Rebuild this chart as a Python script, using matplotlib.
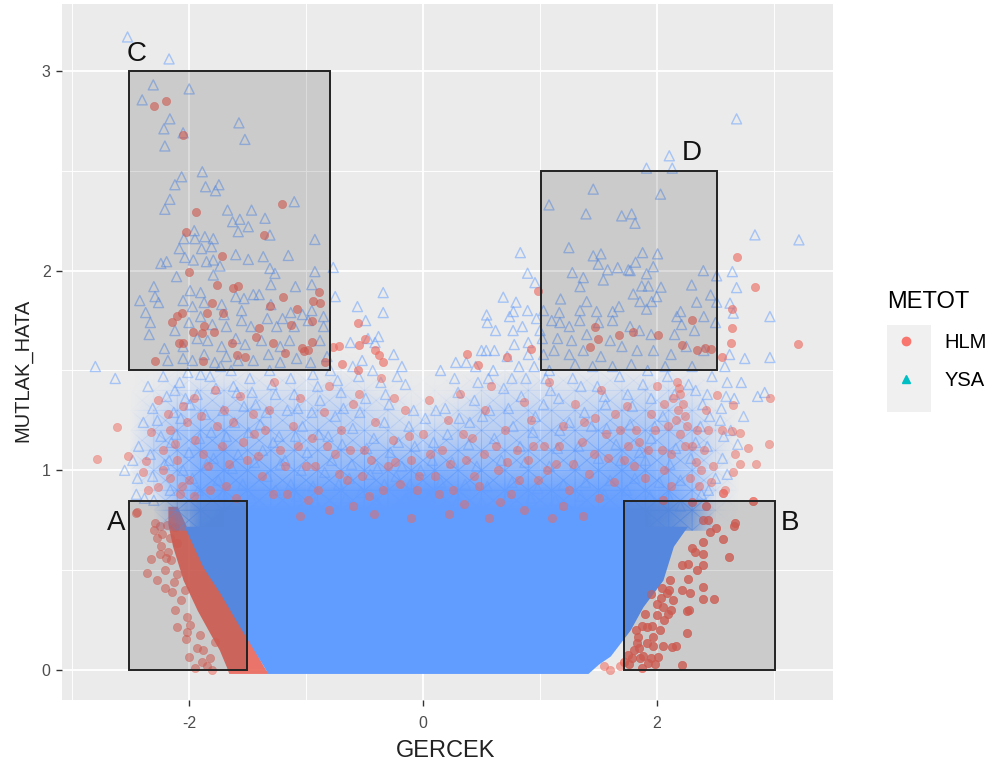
import matplotlib
matplotlib.use("Agg")
import matplotlib.pyplot as plt
from matplotlib.colors import LinearSegmentedColormap
from matplotlib.lines import Line2D
from matplotlib.patches import Rectangle

plt.rcParams['font.family'] = ['Liberation Sans', 'DejaVu Sans']

x_ticks = [-2, 0, 2]
y_ticks = [0, 1, 2, 3]
x_minor = [-3, -1, 1, 3]
y_minor = [0.5, 1.5, 2.5]

# regions too dense to see single marks: envelopes
dense_x = [-2.04,-1.88,-1.735,-1.56,-1.325,-1.0,-0.5,0,0.5,1.0,1.41,1.5,1.6,1.77,1.88,2.05,2.14,2.26]
dense_low = [.72,.515,.385,.21,-.017,-.017,-.017,-.017,-.017,-.017,-.017,.03,.07,.2,.317,.45,.62,.72]
dense_top = [.72,.72,.72,.72,.72,.72,.72,.72,.72,.72,.72,.72,.72,.72,.72,.72,.72,.72]

# share of the panel covered by the triangles above the solid area
cover_x = [-2.5,-2.3,-2.1,-1.9,-1.7,-1.5,-1.3,-1.1,-.9,-.7,-.5,-.3,-.1,.1,.3,.5,.7,.9,1.1,1.3,1.5,1.7,1.9,2.1,2.3,2.5,2.7]
cover_y = [.7,.8,.9,1.0,1.1,1.2,1.3,1.4,1.5,1.6]
cover_70 = [0,0,.25,1,1,1,1,1,1,1,1,1,1,1,1,1,1,1,1,1,1,1,1,.9,.6,0,0]
cover_80 = [0,0,.5,.95,1,1,1,1,1,1,1,1,1,1,1,1,1,1,1,1,1,1,1,.95,.7,.05,0]
cover_90 = [0,.12,.55,.85,.9,.92,.9,.92,.92,.92,.92,.95,.98,.98,.95,.92,.92,.92,.92,.9,.9,.9,.85,.8,.55,.12,0]
cover_100 = [.02,.25,.55,.75,.82,.78,.7,.65,.65,.65,.68,.72,.75,.75,.72,.68,.65,.65,.65,.68,.72,.78,.72,.62,.42,.12,0]
cover_110 = [.02,.28,.5,.68,.72,.58,.55,.5,.5,.5,.48,.48,.46,.48,.5,.5,.5,.5,.52,.55,.58,.62,.58,.5,.38,.15,0]
cover_120 = [0,.24,.42,.52,.55,.48,.42,.4,.4,.36,.32,.26,.22,.25,.3,.34,.36,.38,.4,.42,.45,.48,.45,.42,.32,.12,0]
cover_130 = [0,.14,.28,.36,.36,.36,.3,.28,.28,.28,.22,.15,.08,.08,.15,.26,.28,.28,.28,.28,.3,.32,.32,.28,.2,.05,0]
cover_140 = [0,.04,.14,.18,.18,.15,.14,.14,.14,.14,.09,.04,.02,.02,.05,.09,.14,.14,.14,.14,.16,.16,.16,.14,.09,.02,0]
cover_150 = [0,0,.02,.03,.03,.03,.02,.02,.02,.02,.01,0,0,0,0,.01,.02,.02,.02,.02,.03,.03,.03,.02,.01,0,0]
cover_160 = [0,0,0,0,0,0,0,0,0,0,0,0,0,0,0,0,0,0,0,0,0,0,0,0,0,0,0]

red_band_y = [-.017,.016,.1,.183,.3,.45,.62,.73,.82]
red_band_left = [-1.66,-1.68,-1.74,-1.82,-1.93,-2.05,-2.14,-2.18,-2.18]
red_band_right = [-1.32,-1.36,-1.44,-1.5,-1.62,-1.8,-1.95,-2.03,-2.1]

hlm_upper = [(-2.30,2.824),(-2.20,2.85),(-2.049,2.679),(-1.208,2.333),(-1.943,2.292),(-2.026,2.195),(-1.359,2.178),
(-1.721,2.073),(-1.997,1.995),(-1.764,1.928),(-1.627,1.911),(-1.584,1.923),(-1.2,1.866),(-.938,1.848),(-.881,1.839),
(-.886,1.894),(-1.308,1.824),(-1.08,1.806),(-1.807,1.839),(-1.85,1.789),(-1.707,1.789),(-2.106,1.773),(-2.149,1.744),
(-2.063,1.789),(-.559,1.736),(-1.132,1.727),(-.946,1.747),(-1.402,1.711),(-1.431,1.669),(-1.872,1.722),(-1.886,1.686),
(-1.963,1.694),(-1.787,1.694),(-2.083,1.639),(-2.05,1.64),(-1.636,1.636),(-1.28,1.639),(-.952,1.644),(-1.037,1.611),(-1.02,1.6),(-.98,1.602),
(-.767,1.619),(-.715,1.622),(-.496,1.656),(-.547,1.627),(-.41,1.602),(-.374,1.577),(-.339,1.544),(-2.291,1.549),
(-1.593,1.577),(-.838,1.544),(-.696,1.532),(-1.878,1.549),(-1.522,1.569),(-1.18,1.585),(-.553,1.502),
(2.68,2.067),(2.837,1.92),(.98,1.9),(2.64,1.807),(2.644,1.711),(3.208,1.631),(2.005,1.678),(2.632,1.64),(2.296,1.753),
(1.47,1.72),(1.498,1.656),(1.675,1.678),(1.797,1.695),(1.427,1.62),(2.21,1.628),(2.339,1.603),(2.41,1.615),(2.458,1.606),
(2.558,1.566),(.92,1.606),(.379,1.581),(.473,1.528),(.715,1.565)]

hlm_mid = [(-2.619,1.218),(-2.784,1.056),(-2.519,1.073),(-2.368,1.048),(-2.396,.993),(-2.328,1.193),(-2.263,1.352),(-2.348,.904),(-2.263,.918),
(-2.22,1.1),(-2.16,1.2),(-2.1,1.05),(-2.05,1.32),(-2.0,.95),(-1.95,1.15),(-1.9,1.27),(-1.84,1.02),(-1.78,1.4),(-1.72,1.12),(-1.68,.92),
(-1.62,1.24),(-1.56,1.37),(-1.5,1.05),(-1.44,1.18),(-1.38,.97),(-1.32,1.3),(-1.27,1.44),(-1.22,1.1),(-1.16,.88),(-1.11,1.22),(-1.05,1.36),
(-1.0,1.02),(-.95,1.16),(-.9,.9),(-.85,1.29),(-.8,1.42),(-.75,1.08),(-.7,1.2),(-.65,.95),(-.6,1.33),(-.55,1.38),(-.5,1.1),(-.46,.87),
(-.41,1.24),(-.36,1.46),(-.3,1.02),(-.26,1.15),(-.2,.93),(-.15,1.3),(-.1,1.05),(-.05,.9),(0,1.18),(.05,1.35),(.1,.97),(.16,1.1),(.21,1.25),
(.26,.9),(.32,1.38),(.37,1.05),(.42,1.16),(.48,.92),(.53,1.3),(.58,1.42),(.64,1.0),(.7,1.2),(.75,.88),(.8,1.1),(.86,1.34),(.92,1.25),
(.98,.95),(1.03,1.12),(1.08,1.44),(1.14,1.03),(1.2,1.22),(1.25,.9),(1.3,1.33),(1.36,1.14),(1.42,.98),(1.47,1.26),(1.52,1.4),(1.58,1.06),
(1.63,.94),(1.68,1.2),(1.74,1.32),(1.8,1.02),(1.85,1.14),(1.9,.96),(1.95,1.28),(2.0,1.42),(2.04,1.1),(2.09,1.22),(2.14,1.36),(2.17,1.44),(2.19,1.41),
(2.2,1.38),(2.22,1.33),(2.18,1.3),(2.24,1.27),(2.26,1.22),(2.2,1.18),(2.16,1.25),(2.3,1.12),(2.33,1.04),(2.28,.96),(2.36,.92),(2.4,1.1),
(2.44,1.2),(2.48,1.02),(2.51,1.377),(2.552,1.2),(2.64,1.198),(2.71,1.188),(2.652,1.327),(2.666,1.08),(2.78,1.113),(2.85,1.03),
(2.71,1.03),(2.652,.99),(2.96,1.13),(2.965,1.36),(2.58,.9),(-.6,.82),(-.98,.85),(-1.28,.88),(.35,.83),(.66,.84),(1.2,.82),(1.5,.86),
(-1.7,1.3),(-1.45,1.28),(-.25,1.36),(.9,1.05),(1.75,1.12),(2.06,1.0),(2.12,.92),(-2.08,.88),(-1.96,1.36),
(-2.18,1.28),(-2.12,1.13),(-2.02,1.24),(-1.88,1.08),(-1.76,1.22),(-1.66,1.03),(-1.54,1.14),(-1.41,1.07),(-1.35,1.2),(-1.18,1.02),(-1.07,1.12),
(-.92,1.02),(-.82,1.12),(-.72,.98),(-.62,1.1),(-.52,.97),(-.44,1.05),(-.34,.9),(-.24,1.04),(-.12,1.17),(-.03,.97),(.06,1.08),(.14,.88),(.23,1.03),
(.34,1.18),(.44,.97),(.52,1.08),(.62,1.12),(.72,1.04),(.82,.95),(.94,1.12),(1.06,1.0),(1.16,1.12),(1.28,1.03),(1.38,1.24),(1.46,1.08),(1.56,1.18),
(1.64,1.28),(1.72,1.05),(1.82,1.2),(1.92,1.1),(1.98,1.2),(2.06,1.33),(2.12,1.08),(2.24,1.12),(2.34,1.2),(2.38,1.0),(2.46,.94),(2.42,1.3),
(-2.22,1.0),(-2.16,.96),(-2.06,.92),(-1.96,.87),(-1.82,.9),(-1.6,.86),(-1.05,.77),(-.8,.8),(-.42,.78),(-.1,.76),(.22,.78),(.56,.76),(.86,.8),(1.1,.76),(1.37,.77)]

hlm_low = [(-2.453,.784),(-2.44,.79),(-2.291,.734),(-2.328,.555),(-2.357,.484),(-2.277,.45),(-2.206,.50),(-2.248,.58),(-2.177,.592),(-2.106,.634),
(-2.12,.717),(-2.191,.726),(-2.12,.30),(-2.106,.217),(-2.026,.153),(-1.997,.063),(-1.892,.041),(-1.95,.008),(-1.80,0),(-2.02,.267),
(-1.992,.225),(-1.906,.175),(-1.935,.108),(-2.206,.409),(-2.149,.392),(-2.25,.72),(-2.23,.68),(-2.16,.66),(-2.2,.56),(-2.15,.55),
(-1.85,.02),(-2.07,.35),(-2.03,.4),(-2.3,.7),(-2.27,.66),(-2.24,.62),(-2.1,.48),(-2.13,.44),(-2.02,.19),(-1.88,.1),(-1.82,.06),(-1.78,.14),
(-1.42,.52),(-1.25,.47),(-.5,.7),(-1.1,.62),(.05,.66),
(2.666,.734),(2.66,.72),(2.823,.848),(2.567,.884),(2.396,.751),(2.438,.751),(2.504,.709),(2.453,.692),(2.561,.654),(2.396,.639),(2.302,.609),
(2.325,.592),(2.396,.581),(2.615,.564),(2.21,.525),(2.267,.529),(2.396,.525),(2.339,.50),(2.11,.45),(2.262,.454),(2.396,.417),(2.21,.40),
(2.282,.387),(2.396,.355),(2.49,.355),(2.253,.295),(2.27,.3),(2.253,.183),(2.13,.116),(2.16,.12),(2.216,.025),(2.14,.35),(2.082,.384),(2.04,.41),(2.097,.283),
(2.025,.20),(1.968,.167),(1.911,.133),(1.84,.167),(1.783,.058),(1.854,.058),(1.968,.12),(2.011,.066),(1.926,.033),(1.755,.075),(1.869,.008),
(1.826,.133),(1.911,.217),(1.997,.275),(2.054,.317),(1.76,.03),(1.8,.1),(1.85,.11),(1.88,.07),(1.95,.06),(1.98,.03),(1.82,.2),(1.87,.22),(1.96,.22),
(2.0,.33),(2.06,.25),(2.12,.3),(2.05,.12),(1.9,.28),(1.95,.38),(2.03,.36),(2.1,.4),(1.72,.04),(1.68,.02),(1.6,.0),(1.55,.02),(1.58,.13),
(1.3,.45),(1.06,.58),(.95,.5),(1.17,.23),(1.0,.72),(1.12,.68),(1.25,.78),(2.05,.85),(2.3,.84),(2.42,.82)]

ysa_upper = [(-2.525,3.17),(-2.17,3.06),(-2.305,2.93),(-1.998,2.91),(-2.40,2.855),(-2.163,2.76),(-2.214,2.71),(-1.573,2.74),(-1.522,2.657),
(-2.05,2.69),(-2.206,2.624),(-1.886,2.495),(-2.063,2.47),(-2.12,2.43),(-1.858,2.42),(-1.744,2.43),(-1.773,2.40),(-2.163,2.357),(-2.206,2.307),
(-1.10,2.345),(-1.67,2.303),(-1.465,2.303),(-1.35,2.262),(-1.565,2.257),(-1.627,2.245),(-1.493,2.22),(-1.579,2.195),(-1.308,2.178),(-.924,2.156),
(-1.955,2.2),(-2.043,2.16),(-1.949,2.16),(-1.864,2.17),(-1.792,2.16),(-1.892,2.11),(-1.807,2.12),(-2.083,2.11),(-2.035,2.066),(-1.963,2.053),
(-2.191,2.045),(-2.24,2.036),(-1.85,2.045),(-1.792,2.053),(-1.735,2.023),(-1.6,2.08),(-1.493,2.056),(-1.365,2.07),(-1.151,2.076),(-1.308,2.011),
(-1.265,1.986),(-.924,1.995),(-.767,2.016),(-1.792,1.978),(-2.106,1.97),(-2.3,1.92),(-2.29,1.87),(-2.26,1.84),(-2.42,1.85),(-2.37,1.79),(-2.33,1.74),
(-2.34,1.68),(-2.21,1.61),(-.34,1.89),(-.34,1.79),(-.56,1.82),(-.49,1.75),(-.75,1.87),(-.95,1.93),(-1.09,1.92),(-1.3,1.93),(-1.45,1.88),(-1.4,1.88),
(-1.6,1.87),(-1.53,1.86),(-1.9,1.89),(-1.99,1.9),(-2.05,1.85),(-1.97,1.82),(-1.87,1.84),(-1.72,1.83),(-1.7,1.78),(-1.55,1.8),(-1.3,1.83),(-1.2,1.76),
(-1.13,1.79),(-1.03,1.78),(-.95,1.8),(-.85,1.77),(-.85,1.72),(-2.12,1.7),(-2.0,1.74),(-1.9,1.77),(-1.8,1.73),(-1.68,1.72),(-1.55,1.75),(-1.47,1.72),
(-1.33,1.76),(-1.25,1.72),(-1.1,1.72),(-.98,1.75),(-2.05,1.62),(-1.93,1.66),(-1.84,1.65),(-1.72,1.62),(-1.6,1.66),(-1.52,1.63),(-1.38,1.65),(-1.22,1.62),
(-1.14,1.65),(-.88,1.65),(-2.18,1.55),(-2.05,1.56),(-1.97,1.55),(-1.87,1.58),(-1.78,1.54),(-1.68,1.57),(-1.58,1.55),(-1.45,1.55),(-1.32,1.58),(-1.22,1.54),
(-1.08,1.56),(-.96,1.54),(-.82,1.57),(-.62,1.64),(-.47,1.66),(-.41,1.64),(-.38,1.67),(-.25,1.58),(-.18,1.52),(-.52,1.55),
(-2.8,1.52),(-2.63,1.46),(2.68,2.76),(2.105,2.575),(1.91,2.513),(2.13,2.513),(1.455,2.408),(2.03,2.383),(1.077,2.329),(1.393,2.284),(1.698,2.274),
(1.783,2.284),(1.812,2.237),(2.837,2.179),(3.213,2.154),(1.247,2.115),(.832,2.09),(1.455,2.074),(1.521,2.084),(1.877,2.09),(2.005,2.084),(1.498,2.032),
(1.817,2.042),(1.968,2.02),(1.664,2.015),(1.578,2.004),(1.755,2.004),(1.77,2.0),(2.396,2.0),(2.644,1.995),(1.276,1.99),(.894,1.987),(1.911,1.984),(2.51,1.974),
(1.37,1.965),(1.541,1.953),(.957,1.94),(1.342,1.92),(1.869,1.923),(1.926,1.923),(2.034,1.917),(2.296,1.928),(2.68,1.915),(1.797,1.883),(2.458,1.878),
(.686,1.867),(1.997,1.87),(1.176,1.858),(1.399,1.845),(1.854,1.845),(1.954,1.845),(.795,1.842),(2.339,1.842),(2.51,1.842),(2.624,1.837),(1.675,1.82),
(1.911,1.807),(.894,1.8),(1.342,1.8),(1.484,1.795),(1.621,1.795),(1.165,1.79),(2.202,1.795),(2.652,1.787),(.544,1.778),(.772,1.795),(2.965,1.77),
(.55,1.74),(.62,1.7),(.74,1.77),(.77,1.7),(.85,1.72),(.97,1.76),(1.0,1.7),(1.03,1.8),(1.1,1.75),(1.17,1.74),(1.25,1.72),(1.34,1.75),(1.5,1.74),(1.62,1.75),
(1.77,1.72),(1.85,1.7),(2.17,1.77),(2.21,1.73),(2.4,1.77),(2.5,1.74),(2.32,1.7),(2.15,1.68),(1.95,1.68),(1.6,1.65),(1.4,1.68),(1.27,1.65),(1.15,1.66),
(1.02,1.66),(.9,1.64),(.78,1.63),(.61,1.6),(.5,1.6),(.54,1.6),(.72,1.57),(.9,1.58),(1.03,1.58),(1.12,1.6),(1.25,1.58),(1.37,1.6),(1.52,1.57),(1.7,1.62),
(1.83,1.6),(1.97,1.6),(2.12,1.58),(2.25,1.62),(2.4,1.6),(2.62,1.58),(2.75,1.56),(2.965,1.565),(2.58,1.52),(2.72,1.44),(2.86,1.37),(2.92,1.39),(2.66,1.36),
(.15,1.5),(.28,1.54),(.37,1.54),(.45,1.52),(.6,1.5),(.82,1.52),(.95,1.52),(1.08,1.5),(1.3,1.53),(1.45,1.52),(1.62,1.52),(1.78,1.53),(1.92,1.5),(2.07,1.52),(2.3,1.52)]

ysa_mid = [(-2.35,1.42),(-2.22,1.47),(-2.31,1.31),(-2.19,1.37),(-2.39,1.24),(-2.27,1.25),(-2.13,1.29),(-2.43,1.12),(-2.33,1.08),(-2.24,1.17),(-2.15,1.14),
(-2.44,.96),(-2.31,.97),(-2.21,1.03),(-2.08,1.44),(-2.01,1.49),(-1.93,1.38),(-1.82,1.47),(-1.77,1.41),(-1.64,1.5),(-1.59,1.39),(-1.48,1.46),(-1.43,1.33),
(-1.31,1.5),(-1.26,1.38),(-1.13,1.46),(-1.07,1.31),(-.94,1.48),(-.88,1.35),(-.73,1.45),(-.68,1.31),(-.55,1.47),(-.49,1.36),(-.36,1.44),(-.29,1.33),(-.15,1.43),(-.08,1.3),
(-2.07,1.26),(-1.99,1.33),(-1.86,1.28),(-1.81,1.19),(-1.71,1.3),(-1.61,1.24),(-1.53,1.32),(-1.39,1.23),(-1.34,1.29),(-1.23,1.17),(-1.16,1.3),(-1.03,1.22),
(-.95,1.29),(-.81,1.17),(-.75,1.27),(-.6,1.21),(-.54,1.29),(-.42,1.16),(-.33,1.24),(-.21,1.14),(-.12,1.22),(.02,1.26),(.09,1.14),(.19,1.31),(.3,1.39),(.4,1.24),(.47,1.44),
(.57,1.3),(.69,1.41),(.77,1.22),(.88,1.46),(.96,1.27),(1.09,1.4),(1.17,1.2),(1.28,1.46),(1.38,1.29),(1.49,1.42),(1.57,1.21),(1.68,1.47),(1.79,1.32),(1.88,1.43),(1.98,1.22),(2.09,1.47),
(2.27,1.43),(2.39,1.33),(2.47,1.47),(2.59,1.37),(2.54,1.25),(2.45,1.27),(2.37,1.22),(2.43,1.12),(2.56,1.06),(2.33,1.14),(2.63,1.2),(2.74,1.27),(2.69,1.13),(2.57,1.17),
(.11,1.3),(.21,1.18),(.31,1.26),(.39,1.13),(.51,1.27),(.61,1.16),(.73,1.31),(.83,1.12),(.94,1.19),(1.03,1.33),(1.15,1.11),(1.25,1.24),(1.33,1.12),(1.44,1.22),(1.56,1.33),(1.65,1.13),(1.77,1.23),(1.85,1.09),(1.95,1.16),(2.05,1.27),(2.16,1.11),
(-2.11,1.18),(-2.0,1.09),(-1.91,1.16),(-1.79,1.06),(-1.68,1.17),(-1.58,1.08),(-1.49,1.19),(-1.37,1.1),(-1.28,1.14),(-1.18,1.05),(-1.09,1.17),(-.99,1.09),(-.89,1.18),(-.78,1.05),(-.69,1.13),(-.61,1.03),(-.48,1.11),(-.39,1.01),(-.28,1.09),(-.18,1.02),(-.07,1.12),
(-2.55,1.0),(-2.48,1.05),(-2.45,.88),(-2.38,.86),(-2.3,.85),(2.6,.98),(2.5,.96),(2.44,.9),(2.38,.88),(2.55,1.31),(2.6,1.44),
(-2.17,1.05),(-2.05,1.0),(-1.97,.96),(-1.85,1.03),(-1.75,.95),(-1.63,1.01),(-1.54,.93),(-1.44,1.04),(-1.33,.97),(-1.22,1.03),(-1.13,.93),(-1.04,1.0),(-.94,.92),(-.84,.99),
(-.72,.93),(-.63,.96),(-.53,.89),(-.45,.98),(-.33,.93),(-.23,.97),(-.11,.93),(-.02,1.0),(.08,1.05),(.15,.94),(.25,1.04),(.36,.93),(.46,1.02),(.55,.92),(.67,1.05),(.76,.94),
(.87,1.04),(.98,.91),(1.08,1.02),(1.2,.93),(1.3,1.03),(1.39,.94),(1.5,1.06),(1.6,.95),(1.69,1.05),(1.81,.96),(1.9,1.05),(2.02,.94),(2.11,1.03),(2.2,.95),(2.29,1.06),
(-1.92,.9),(-1.71,.88),(-1.47,.86),(-1.26,.9),(-1.08,.87),(-.92,.84),(-.66,.86),(-.4,.85),(-.15,.86),(.05,.87),(.3,.85),(.5,.84),(.72,.87),
(.92,.86),(1.13,.85),(1.35,.87),(1.55,.88),(1.74,.9),(1.94,.87),(2.1,.87),(2.2,.82),(-2.16,.9),
(-2.12,1.4),(-2.03,1.36),(-1.9,1.48),(-1.73,1.52),(-1.62,1.42),(-1.46,1.39),(-1.29,1.43),(-1.1,1.38),(-.9,1.42),(-.79,1.5),(-.7,1.39),(-.6,1.52),(-.43,1.5),(-.32,1.38),(-.22,1.47),
(.27,1.46),(.44,1.35),(.56,1.46),(.76,1.46),(.84,1.37),(1.05,1.46),(1.16,1.36),(1.35,1.42),(1.55,1.37),(1.75,1.38),(1.95,1.36),(2.15,1.38),(2.33,1.4),(2.43,1.38)]

hlm_color = '#EC6A5F'
ysa_color = '#619CFF'

fig = plt.figure(figsize=(9.92, 7.65), dpi=100, facecolor='white')
W, H = 992, 765
L, R, T, B = 62, 833, 4, 700
ax = fig.add_axes([L / W, 1 - B / H, (R - L) / W, (B - T) / H], facecolor='#EBEBEB')
ax.set_xlim(-3.085, 3.504)
ax.set_ylim(-0.150, 3.335)
for s in ax.spines.values():
    s.set_visible(False)
ax.set_axisbelow(True)
ax.set_xticks(x_ticks)
ax.set_yticks(y_ticks)
ax.set_xticks(x_minor, minor=True)
ax.set_yticks(y_minor, minor=True)
ax.grid(True, which='major', color='white', linewidth=1.3)
ax.grid(True, which='minor', color='white', linewidth=0.65)
ax.tick_params(which='minor', length=0)
ax.tick_params(axis='x', which='major', length=4.2, width=1, color='#333333', labelcolor='#4D4D4D', labelsize=11.5, pad=7)
ax.tick_params(axis='y', which='major', length=4.2, width=1, color='#333333', labelcolor='#4D4D4D', labelsize=11.5, pad=4)
ax.set_xticklabels([str(v) for v in x_ticks])
ax.set_yticklabels([str(v) for v in y_ticks])
ax.set_xlabel('GERCEK', fontsize=17, color='#222222')
ax.set_ylabel('MUTLAK_HATA', fontsize=14.5, color='#222222')
ax.xaxis.set_label_coords(0.498, -0.058)
ax.yaxis.set_label_coords(-0.039, 0.474)


def sc(points, color, marker, size, alpha, z):
    xs = [p[0] for p in points]
    ys = [p[1] for p in points]
    if marker == 'o':
        ax.scatter(xs, ys, s=size, marker='o', color=color, alpha=alpha, linewidths=0.4, zorder=z)
    else:
        ax.scatter(xs, ys, s=size, marker='^', facecolors='none', edgecolors=color, alpha=alpha, linewidths=1.0, zorder=z)


cover_rows = [cover_70, cover_80, cover_90, cover_100, cover_110, cover_120, cover_130, cover_140, cover_150, cover_160]
cover_cmap = LinearSegmentedColormap.from_list('cover', [(0.38, 0.61, 1.0, 0.0), (0.38, 0.61, 1.0, 1.0)])

ax.fill_betweenx(red_band_y, red_band_left, red_band_right, color=hlm_color, alpha=0.92, lw=0, zorder=2)
sc(hlm_low, hlm_color, 'o', 36, 0.55, 2.5)
ax.pcolormesh(cover_x, cover_y, cover_rows, cmap=cover_cmap, vmin=0, vmax=1, shading='gouraud', zorder=2.8)
ax.fill_between(dense_x, dense_low, dense_top, color=ysa_color, lw=0, zorder=3)
sc(ysa_mid, ysa_color, '^', 52, 0.45, 3.2)
sc(ysa_upper, ysa_color, '^', 52, 0.5, 3.4)
sc(hlm_mid, hlm_color, 'o', 36, 0.5, 3.6)
sc(hlm_upper, hlm_color, 'o', 36, 0.62, 3.6)
sc([p for p in hlm_low if p[0] > 1.7], hlm_color, 'o', 36, 0.55, 3.7)

# annotation boxes: left, bottom, width, height
box_names = ['A', 'B', 'C', 'D']
box_left = [-2.51, 1.72, -2.51, 1.01]
box_bottom = [0, 0, 1.5, 1.5]
box_width = [1.006, 1.29, 1.715, 1.50]
box_height = [0.846, 0.846, 1.5, 1.0]
label_x = [-2.62, 3.14, -2.45, 2.30]
label_y = [0.735, 0.735, 3.085, 2.59]
for n, l, b, w, h, lx, ly in zip(box_names, box_left, box_bottom, box_width, box_height, label_x, label_y):
    ax.add_patch(Rectangle((l, b), w, h, facecolor=(0, 0, 0, 0.135), edgecolor='#222222', linewidth=1.4, zorder=6))
    ax.text(lx, ly, n, fontsize=20, ha='center', va='center', color='#111111', zorder=7)

fig.patches.append(Rectangle((887 / W, 1 - 412 / H), 44 / W, 87 / H, transform=fig.transFigure,
                             facecolor='#F0F0F0', edgecolor='none'))
handles = [Line2D([], [], linestyle='none', marker='o', markersize=6, color='#F8766D', label='HLM'),
           Line2D([], [], linestyle='none', marker='^', markersize=6, color='#00BFC4', label='YSA')]
leg = fig.legend(handles=handles, title='METOT', loc='upper left', bbox_to_anchor=(883 / W, 1 - 287 / H),
                 frameon=False, fontsize=14.5, title_fontsize=17, labelspacing=0.98, handletextpad=0.95,
                 handlelength=1.9, borderaxespad=0, borderpad=0.2)
leg._legend_box.align = 'left'
fig.savefig('out.png', dpi=100)
